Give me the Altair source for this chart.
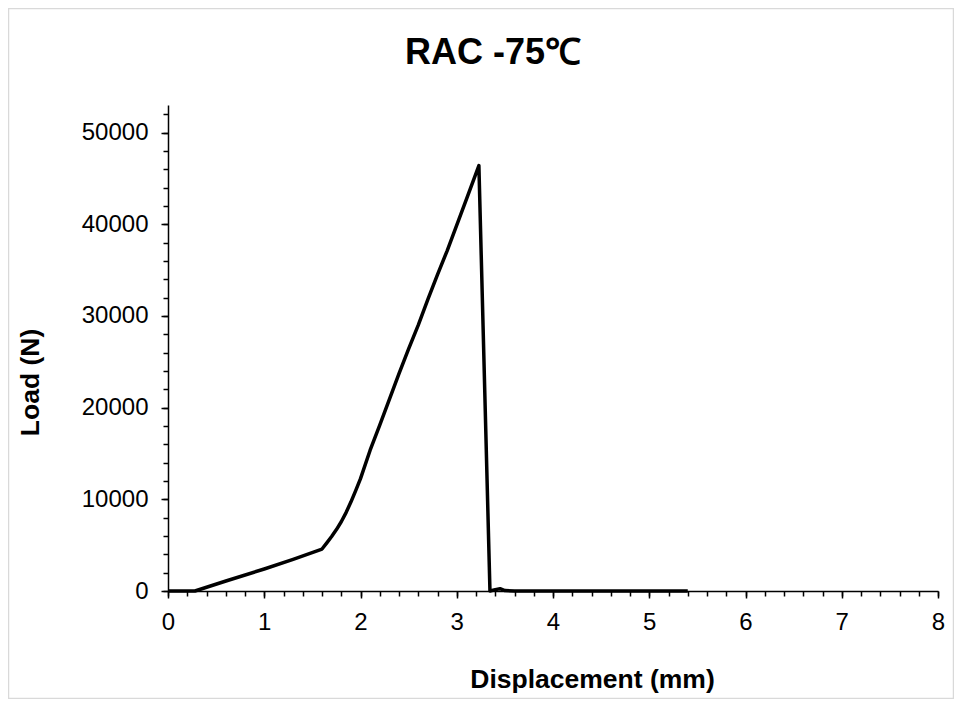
import altair as alt
import pandas as pd

# Displacement (mm) and Load (N)
displacement = [0.0, 0.28, 0.61, 1.0, 1.3, 1.6, 1.65, 1.7, 1.75, 1.8, 1.85, 1.9, 1.95, 2.0,
                2.1, 2.2, 2.3, 2.4, 2.5, 2.6, 2.7, 2.8, 2.9, 3.0, 3.1, 3.23,
                3.345, 3.40, 3.45, 3.50, 3.6, 4.5, 5.4]
load = [0, 0, 1120, 2400, 3450, 4575, 5250, 5950, 6700, 7550, 8550, 9700, 10950, 12250,
        15350, 18100, 20900, 23700, 26400, 29000, 31800, 34500, 37100, 39900, 42700, 46400,
        0, 150, 250, 50, 0, 0, 0]

x_major = [0, 1, 2, 3, 4, 5, 6, 7, 8]
x_minor = [round(i * 0.2, 1) for i in range(41)]
y_major = [0, 10000, 20000, 30000, 40000, 50000]
y_minor = [i * 2000 for i in range(27)]

title_text = "RAC -75℃"
x_title = "Displacement (mm)"
y_title = "Load (N)"

df = pd.DataFrame({"d": displacement, "load": load})

FONT = "Liberation Sans"
W, H = 770, 486

xscale = alt.Scale(domain=[0, 8], nice=False, zero=False)
yscale = alt.Scale(domain=[0, 53000], nice=False, zero=True)

border = alt.Chart(alt.Data(values=[{}])).mark_rect(
    filled=False, stroke="#d9d9d9", strokeWidth=1.5
).encode(
    x=alt.value(-159.5), x2=alt.value(785.5),
    y=alt.value(-96.5), y2=alt.value(593.5)
)

line = alt.Chart(df).mark_line(color="black", strokeWidth=3.5, strokeJoin="round").encode(
    x=alt.X("d:Q", scale=xscale,
            axis=alt.Axis(values=x_major, format="d", tickSize=7, tickWidth=1.5,
                          domainColor="black", domainWidth=1.5, tickColor="black",
                          labelFont=FONT, labelFontSize=24, labelColor="black",
                          labelPadding=12, grid=False, labelFlush=False,
                          title=x_title, titleFont=FONT, titleFontSize=26.5,
                          titleFontWeight="bold", titleColor="black",
                          titleX=424, titleY=96, titleBaseline="alphabetic",
                          titleAlign="center")),
    y=alt.Y("load:Q", scale=yscale,
            axis=alt.Axis(values=y_major, format="d", tickSize=7, tickWidth=1.5,
                          domainColor="black", domainWidth=1.5, tickColor="black",
                          labelFont=FONT, labelFontSize=24, labelColor="black",
                          labelPadding=13, grid=False, labelFlush=False,
                          title=y_title, titleFont=FONT, titleFontSize=26.5,
                          titleFontWeight="bold", titleColor="black",
                          titleX=-130, titleY=277, titleAngle=270,
                          titleBaseline="alphabetic", titleAlign="center")),
)

minor = alt.Chart(df).mark_point(opacity=0).encode(
    x=alt.X("d:Q", scale=xscale,
            axis=alt.Axis(values=x_minor, orient="bottom", labels=False, domain=False,
                          tickSize=5, tickWidth=1.5, tickColor="black", grid=False,
                          title=None)),
    y=alt.Y("load:Q", scale=yscale,
            axis=alt.Axis(values=y_minor, orient="left", labels=False, domain=False,
                          tickSize=5, tickWidth=1.5, tickColor="black", grid=False,
                          title=None)),
)

chart = alt.layer(border, line, minor).resolve_axis(
    x="independent", y="independent"
).properties(
    width=W, height=H,
    title=alt.TitleParams(title_text, font=FONT, fontSize=36, fontWeight="bold",
                          color="black", anchor="middle", frame="group", dx=-60,
                          offset=-92, baseline="alphabetic"),
    autosize=alt.AutoSizeParams(type="none"),
    padding={"left": 160, "top": 97, "right": 16, "bottom": 108},
).configure_view(stroke=None)

chart.save("out.html", embed_options={"renderer": "svg", "actions": False})
